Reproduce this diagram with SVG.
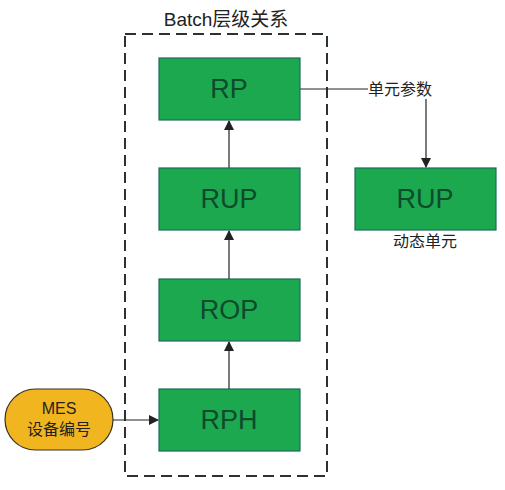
<svg xmlns="http://www.w3.org/2000/svg" width="505" height="490" viewBox="0 0 505 490">
<defs>
<style>
.box{fill:#1ca84f;stroke:#1b6b5c;stroke-width:1.2}
.bt{font-family:"Liberation Sans",Arial,sans-serif;font-size:27px;fill:#0e4a2c;text-anchor:middle}
.lbl{font-family:"Liberation Sans","Noto Sans CJK SC",sans-serif;font-size:16px;fill:#222;text-anchor:middle}
.ln{stroke:#222;stroke-width:1.2;fill:none}
</style>
<marker id="ah" markerWidth="10" markerHeight="10" refX="9" refY="5" orient="auto" markerUnits="userSpaceOnUse">
<path d="M0,0 L10,5 L0,10 Z" fill="#222"/>
</marker>
</defs>
<rect width="505" height="490" fill="#fff"/>
<g id="batch-frame">
<rect x="125" y="34" width="202" height="442" fill="none" stroke="#2a3233" stroke-width="2" stroke-dasharray="11,6"/>
<text x="226" y="26" style="font-family:'Liberation Sans','Noto Sans CJK SC',sans-serif;font-size:19px;fill:#222;text-anchor:middle">Batch层级关系</text>
</g>
<g id="connectors">
<line class="ln" x1="229" y1="168" x2="229" y2="121" marker-end="url(#ah)"/>
<line class="ln" x1="229" y1="279" x2="229" y2="231" marker-end="url(#ah)"/>
<line class="ln" x1="229" y1="389" x2="229" y2="342" marker-end="url(#ah)"/>
<line class="ln" x1="113" y1="420" x2="158" y2="420" marker-end="url(#ah)"/>
<line class="ln" x1="300" y1="89" x2="368" y2="89"/>
<line class="ln" x1="426" y1="99" x2="426" y2="167" marker-end="url(#ah)"/>
<text class="lbl" x="400" y="95">单元参数</text>
</g>
<g id="rp"><rect class="box" x="159" y="58" width="141" height="62"/><text class="bt" x="229" y="98">RP</text></g>
<g id="rup"><rect class="box" x="159" y="168" width="141" height="62"/><text class="bt" x="229" y="208">RUP</text></g>
<g id="rop"><rect class="box" x="159" y="279" width="141" height="62"/><text class="bt" x="229" y="319">ROP</text></g>
<g id="rph"><rect class="box" x="159" y="389" width="141" height="62"/><text class="bt" x="229" y="429">RPH</text></g>
<g id="rup-dynamic"><rect class="box" x="355" y="168" width="141" height="62"/><text class="bt" x="425" y="208">RUP</text><text class="lbl" x="425" y="247">动态单元</text></g>
<g id="mes"><rect x="5" y="389" width="108" height="61" rx="30.5" fill="#f0b51f" stroke="#3a3320" stroke-width="1.2"/><text class="lbl" x="59" y="414">MES</text><text class="lbl" x="59" y="435">设备编号</text></g>
</svg>
